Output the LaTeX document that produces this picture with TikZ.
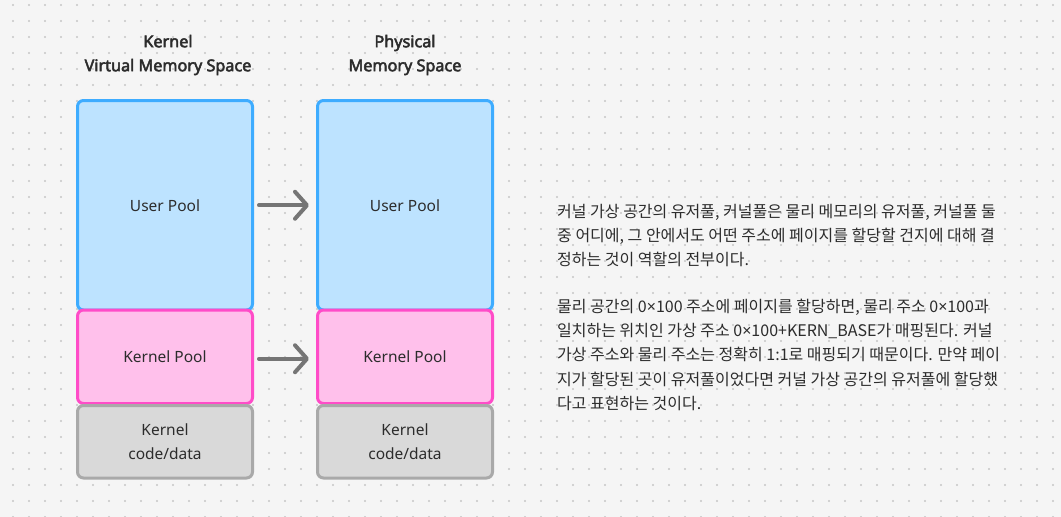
\documentclass[tikz,border=0pt]{standalone}
\usepackage{fontspec}
\setmainfont{Noto Sans}[AutoFakeBold=3]
\newfontfamily\kofont{Noto Sans CJK KR}
\newfontfamily\latinfont{Noto Sans}
\usetikzlibrary{arrows.meta}

\definecolor{bgc}{HTML}{F5F5F5}
\definecolor{dotc}{HTML}{C6C6C6}
\definecolor{userfill}{HTML}{BDE3FF}
\definecolor{userdraw}{HTML}{3EACFF}
\definecolor{kernfill}{HTML}{FFC0EB}
\definecolor{kerndraw}{HTML}{FF4CC8}
\definecolor{codefill}{HTML}{D9D9D9}
\definecolor{codedraw}{HTML}{A9A9A9}
\definecolor{arrc}{HTML}{757575}
\definecolor{txtc}{HTML}{2C2C2C}

\newcommand{\mulsign}{{\latinfont ×}}

\tikzset{
  pool/.style={rectangle, rounded corners=6pt, line width=3pt, inner sep=0pt,
    minimum width=175pt, text=txtc, align=center,
    font=\fontsize{15.5}{24}\selectfont},
  userpool/.style={pool, fill=userfill, draw=userdraw, minimum height=209.5pt},
  kernpool/.style={pool, fill=kernfill, draw=kerndraw, minimum height=93.5pt},
  codepool/.style={pool, fill=codefill, draw=codedraw, minimum height=72.5pt},
  title/.style={align=center, text=txtc, font=\bfseries\fontsize{16.2}{24}\selectfont},
  mapping/.style={draw=arrc, line width=4pt, line cap=round,
    -{Straight Barb[length=12pt,width=27pt,round]}, shorten <=5pt, shorten >=7pt},
  note/.style={align=left, anchor=north west, inner sep=0pt, text=txtc,
    font=\kofont\fontsize{16}{24.2}\selectfont}
}

\begin{document}
\begin{tikzpicture}[x=1pt, y=-1pt]

    % background and dot grid
    \fill[bgc] (0,0) rectangle (1061,517);
    \useasboundingbox (0,0) rectangle (1061,517);
    \foreach \i in {0,...,66}
      \foreach \j in {0,...,32}
        \fill[dotc] (13+16*\i, 5+16*\j) circle (1.1);

    % headings
    \node[title] (vtitle) at (168,55) {Kernel\\Virtual Memory Space};
    \node[title] (ptitle) at (405,55) {Physical\\Memory Space};

    % kernel virtual memory
    \node[userpool] (vuser) at (165,205.25) {\raisebox{-1.5pt}{User Pool}};
    \node[kernpool] (vkern) at (165,356.75) {\raisebox{-1pt}{Kernel Pool}};
    \node[codepool] (vcode) at (165,441.75) {\raisebox{-1.5pt}{Kernel}\\\raisebox{-1.5pt}{code/data}};

    % physical memory
    \node[userpool] (puser) at (405,205.25) {\raisebox{-1.5pt}{User Pool}};
    \node[kernpool] (pkern) at (405,356.75) {\raisebox{-1pt}{Kernel Pool}};
    \node[codepool] (pcode) at (405,441.75) {\raisebox{-1.5pt}{Kernel}\\\raisebox{-1.5pt}{code/data}};

    \draw[mapping] (vuser.east) -- (puser.west);
    \draw[mapping] ([yshift=-2pt]vkern.east) -- ([yshift=-2pt]pkern.west);

    % explanation
    \node[note] (para1) at (557,204) {커널 가상 공간의 유저풀, 커널풀은 물리 메모리의 유저풀, 커널풀 둘\\
      중 어디에, 그 안에서도 어떤 주소에 페이지를 할당할 건지에 대해 결\\
      정하는 것이 역할의 전부이다.};
    \node[note] (para2) at (557,299) {물리 공간의 0\mulsign100 주소에 페이지를 할당하면, 물리 주소 0\mulsign100과\\
      일치하는 위치인 가상 주소 0\mulsign100+KERN\_BASE가 매핑된다. 커널\\
      가상 주소와 물리 주소는 정확히 1:1로 매핑되기 때문이다. 만약 페이\\
      지가 할당된 곳이 유저풀이었다면 커널 가상 공간의 유저풀에 할당했\\
      다고 표현하는 것이다.};
\end{tikzpicture}
\end{document}
